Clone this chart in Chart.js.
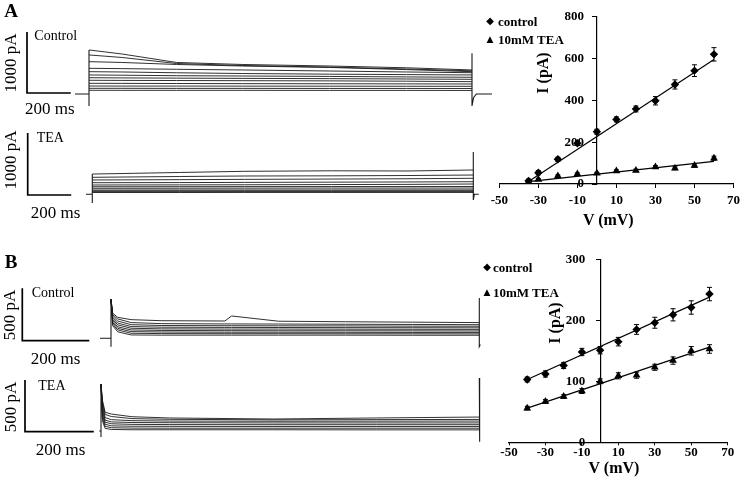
<!DOCTYPE html>
<html><head><meta charset="utf-8">
<script src="https://cdn.jsdelivr.net/npm/chart.js@4.4.1/dist/chart.umd.min.js"></script>
<style>
html,body{margin:0;padding:0;background:#fff;}
#root{position:relative;width:745px;height:485px;overflow:hidden;background:#fff;}
#root canvas{position:absolute;}
.t{position:absolute;font-family:"Liberation Serif","Times New Roman",serif;color:#000;white-space:nowrap;line-height:1;}
</style></head><body><div id="root"></div>
<script>
// ================= DATA =================
// I-V relationship, panel A
const voltsA = [-35, -30, -20, -10, 0, 10, 20, 30, 40, 50, 60];
const ctrlA = [15, 54, 118, 195, 250, 309, 359, 398, 476, 542, 620];
const ctrlErrA = [8, 10, 10, 10, 12, 12, 14, 20, 22, 28, 32];
const teaA = [12, 22, 38, 48, 51, 62, 65, 81, 75, 88, 123];
const teaErrA = [5, 5, 5, 5, 5, 6, 6, 7, 7, 8, 10];
const fitVoltsA = [-35, 60];
const ctrlFitA = [12, 595];
const teaFitA = [11, 108];
const yTicksA = [0, 200, 400, 600, 800];

// I-V relationship, panel B
const voltsB = [-40, -30, -20, -10, 0, 10, 20, 30, 40, 50, 60];
const ctrlB = [103, 112, 126, 148, 151, 165, 185, 196, 209, 221, 243];
const ctrlErrB = [4, 5, 5, 6, 6, 7, 8, 9, 10, 11, 11];
const teaB = [56, 67, 75, 84, 100, 109, 110, 123, 134, 150, 153];
const teaErrB = [3, 3, 3, 4, 4, 5, 5, 5, 6, 7, 7];
const fitVoltsB = [-40, 60];
const ctrlFitB = [103, 238];
const teaFitB = [56, 156];
const yTicksB = [0, 100, 200, 300];

const xTicksIV = [-50, -30, -10, 10, 30, 50, 70];
const legendLabels = ['control', '10mM TEA'];

// Current traces, panel A (time in ms, current in pA)
const timeA = [0, 150, 400, 700, 1100, 1450, 1750];
const ctrlTracesA = [
  [722, 656, 517, 484, 459, 430, 394],
  [640, 599, 500, 467, 441, 410, 380],
  [530, 517, 484, 459, 435, 400, 366],
  [421, 416, 405, 394, 377, 361, 349],
  [366, 361, 348, 336, 325, 318, 312],
  [312, 308, 300, 295, 288, 280, 274],
  [267, 264, 260, 256, 252, 246, 241],
  [225, 223, 221, 218, 215, 210, 202],
  [175, 174, 172, 170, 168, 166, 164],
  [131, 130, 130, 129, 128, 127, 126],
  [93, 93, 92, 92, 91, 91, 90],
  [61, 60, 60, 60, 59, 59, 58]
];
const ctrlOnTimeA = [-64, 0, 0, 0];
const ctrlOnCurA = [0, 0, -197, 722];
const ctrlOffTimeA = [1750, 1750, 1757, 1770, 1865];
const ctrlOffCurA = [667, -197, -60, 0, 0];

const teaTracesA = [
  [306, 315, 331, 350, 358, 355, 371],
  [253, 258, 266, 274, 277, 282, 290],
  [210, 212, 215, 220, 225, 230, 237],
  [166, 167, 168, 171, 175, 178, 182],
  [129, 130, 131, 133, 136, 139, 145],
  [101, 101, 102, 103, 104, 104, 105],
  [76, 76, 77, 78, 79, 79, 80],
  [48, 48, 49, 49, 49, 50, 50],
  [34, 34, 35, 35, 35, 36, 36],
  [21, 21, 21, 22, 22, 22, 22],
  [8, 8, 8, 9, 9, 9, 9]
];
const teaOnTimeA = [-29, 0, 0, 0];
const teaOnCurA = [-21, -21, -161, 306];
const teaOffTimeA = [1750, 1750, 1755, 1775];
const teaOffCurA = [661, -113, -20, -20];

// Current traces, panel B
const timeB = [0, 5, 20, 60, 150, 340, 360, 500, 700, 900, 1100];
const ctrlTracesB = [
  [372, 240, 200, 178, 168, 165, 213, 163, 158, 154, 150],
  [372, 225, 185, 150, 140, 137, 137, 136, 134, 132, 130],
  [372, 210, 165, 130, 122, 120, 120, 119, 118, 116, 115],
  [372, 195, 145, 112, 106, 104, 104, 103, 102, 101, 100],
  [372, 180, 128, 96, 90, 88, 88, 88, 87, 86, 85],
  [372, 165, 110, 80, 75, 73, 73, 72, 72, 71, 70],
  [372, 150, 95, 64, 60, 58, 58, 58, 57, 56, 56],
  [372, 135, 80, 48, 45, 44, 44, 44, 43, 43, 42],
  [372, 120, 62, 32, 30, 30, 30, 30, 30, 29, 29]
];
const ctrlOnTimeB = [-33, 0, 0, 0];
const ctrlOnCurB = [0, 0, -80, 372];
const ctrlOffTimeB = [1100, 1100, 1103];
const ctrlOffCurB = [384, -80, -60];

const timeBT = [0, 4, 12, 30, 90, 200, 500, 800, 1100];
const teaTracesB = [
  [454, 300, 181, 164, 138, 126, 116, 126, 135],
  [454, 280, 160, 140, 120, 113, 108, 110, 112],
  [454, 250, 130, 110, 100, 96, 94, 95, 96],
  [454, 220, 105, 88, 82, 80, 78, 78, 78],
  [454, 190, 85, 70, 64, 62, 61, 61, 61],
  [454, 160, 65, 50, 46, 45, 44, 44, 44],
  [454, 130, 45, 32, 28, 27, 27, 27, 27],
  [454, 100, 25, 15, 12, 12, 12, 11, 11]
];
const teaOnTimeB = [-5, 0, 0, 0];
const teaOnCurB = [0, 0, -58, 454];
const teaOffTimeB = [1100, 1100, 1102];
const teaOffCurB = [512, -103, -80];

// scale bars (ms, pA)
const barMs = 200;
const barPA_A = 1000;
const barPA_B = 500;

// ================= RENDERING =================
const root = document.getElementById('root');
const SERIF = '"Liberation Serif","Times New Roman",serif';

function pts(xs, ys) { return xs.map((x, k) => ({ x: x, y: ys[k] })); }

function addCanvas(left, top, width, height) {
  const c = document.createElement('canvas');
  c.width = width; c.height = height;
  c.style.left = left + 'px'; c.style.top = top + 'px';
  c.style.width = width + 'px'; c.style.height = height + 'px';
  root.appendChild(c);
  return c;
}

function addText(text, x, y, opt) {
  const d = document.createElement('div');
  d.className = 't';
  d.textContent = text;
  d.style.fontSize = opt.size + 'px';
  d.style.fontWeight = opt.bold ? 'bold' : 'normal';
  if (opt.family) d.style.fontFamily = opt.family;
  d.style.left = x + 'px';
  d.style.top = y + 'px';
  if (opt.rotate) d.style.transform = 'translate(-50%,-50%) rotate(-90deg)';
  else if (opt.align === 'left') d.style.transform = 'translate(0,-50%)';
  else d.style.transform = 'translate(-50%,-50%)';
  root.appendChild(d);
}

// Trace panels: layout maps ms / pA into pixels
function tracePanel(L, time, traces, onT, onI, offT, offI, barPA) {
  const c = addCanvas(L.left, L.top, L.width, L.height);
  const pxPerMs = (L.endPx - L.onsetPx) / L.durMs;
  const pxPerPA = L.barHeightPx / barPA;
  const xmin = -(L.onsetPx - L.left) / pxPerMs;
  const xmax = (L.left + L.width - L.onsetPx) / pxPerMs;
  const ymax = (L.basePx - L.top) / pxPerPA;
  const ymin = -(L.top + L.height - L.basePx) / pxPerPA;
  const barT = (L.barPx.x - L.onsetPx) / pxPerMs;
  const barI = (L.basePx - L.barPx.y) / pxPerPA;
  const ds = [];
  const lineStyle = { borderColor: '#1a1a1a', borderWidth: 0.9, pointRadius: 0, tension: 0, fill: false };
  traces.forEach(tr => ds.push(Object.assign({ data: pts(time, tr) }, lineStyle)));
  ds.push(Object.assign({ data: pts(onT, onI) }, lineStyle, { borderWidth: 1.1 }));
  ds.push(Object.assign({ data: pts(offT, offI) }, lineStyle, { borderWidth: 1.1 }));
  ds.push({ data: [{ x: barT, y: barI + barPA }, { x: barT, y: barI }, { x: barT + barMs, y: barI }],
            borderColor: '#000', borderWidth: 1.7, pointRadius: 0, tension: 0, fill: false });
  new Chart(c, {
    type: 'line',
    data: { datasets: ds },
    options: {
      animation: false, responsive: false, events: [],
      layout: { padding: 0 },
      plugins: { legend: { display: false }, tooltip: { enabled: false } },
      scales: {
        x: { type: 'linear', min: xmin, max: xmax, display: false },
        y: { type: 'linear', min: ymin, max: ymax, display: false }
      }
    }
  });
}

tracePanel({ left: 0, top: 18, width: 492, height: 102, onsetPx: 89, endPx: 472, durMs: 1750, basePx: 94, barPx: { x: 27, y: 93 }, barHeightPx: 61 },
  timeA, ctrlTracesA, ctrlOnTimeA, ctrlOnCurA, ctrlOffTimeA, ctrlOffCurA, barPA_A);
tracePanel({ left: 0, top: 122, width: 492, height: 98, onsetPx: 92.3, endPx: 473.3, durMs: 1750, basePx: 193, barPx: { x: 27.7, y: 195 }, barHeightPx: 62 },
  timeA, teaTracesA, teaOnTimeA, teaOnCurA, teaOffTimeA, teaOffCurA, barPA_A);
tracePanel({ left: 0, top: 275, width: 492, height: 85, onsetPx: 111, endPx: 479.3, durMs: 1100, basePx: 338.3, barPx: { x: 22.3, y: 340.7 }, barHeightPx: 52.4 },
  timeB, ctrlTracesB, ctrlOnTimeB, ctrlOnCurB, ctrlOffTimeB, ctrlOffCurB, barPA_B);
tracePanel({ left: 0, top: 368, width: 492, height: 84, onsetPx: 101, endPx: 479.3, durMs: 1100, basePx: 431, barPx: { x: 25, y: 431.7 }, barHeightPx: 51.7 },
  timeBT, teaTracesB, teaOnTimeB, teaOnCurB, teaOffTimeB, teaOffCurB, barPA_B);

// error bar plugin
const errorBars = {
  id: 'errorBars',
  afterDatasetsDraw(chart) {
    const ctx = chart.ctx, xs = chart.scales.x, ys = chart.scales.y;
    chart.data.datasets.forEach(ds => {
      if (!ds.errors) return;
      ctx.save();
      ctx.strokeStyle = '#000'; ctx.lineWidth = 1;
      ds.data.forEach((p, j) => {
        const x = xs.getPixelForValue(p.x);
        const y1 = ys.getPixelForValue(p.y - ds.errors[j]);
        const y2 = ys.getPixelForValue(p.y + ds.errors[j]);
        ctx.beginPath();
        ctx.moveTo(x, y1); ctx.lineTo(x, y2);
        ctx.moveTo(x - 2.5, y1); ctx.lineTo(x + 2.5, y1);
        ctx.moveTo(x - 2.5, y2); ctx.lineTo(x + 2.5, y2);
        ctx.stroke();
      });
      ctx.restore();
    });
  }
};

// shifts the y tick labels of an axis placed at x = 0 away from the axis line
const yLabelGap = {
  id: 'yLabelGap',
  beforeDraw(chart, args, opts) {
    const s = chart.scales.y;
    const items = s.getLabelItems(chart.chartArea);
    items.forEach(it => {
      if (!it._shifted) { it.options.translation[0] -= opts.gap; it._shifted = true; }
    });
  }
};

function ivChart(L, volts, ctrl, ctrlErr, tea, teaErr, fitV, ctrlFit, teaFit, yTicks) {
  const c = addCanvas(L.left, L.top, L.width, L.height);
  const tickFont = { family: SERIF, weight: 'bold', size: 13 };
  new Chart(c, {
    type: 'scatter',
    data: {
      datasets: [
        { label: legendLabels[0], data: pts(volts, ctrl), errors: ctrlErr, pointStyle: 'rectRot', pointRadius: 4.2,
          backgroundColor: '#000', borderColor: '#000', borderWidth: 0, showLine: false },
        { label: legendLabels[1], data: pts(volts, tea), errors: teaErr, pointStyle: 'triangle', pointRadius: 4.5,
          backgroundColor: '#000', borderColor: '#000', borderWidth: 0, showLine: false },
        { label: 'fit control', data: pts(fitV, ctrlFit), showLine: true, pointRadius: 0, borderColor: '#000', borderWidth: 1.2 },
        { label: 'fit TEA', data: pts(fitV, teaFit), showLine: true, pointRadius: 0, borderColor: '#000', borderWidth: 1.2 }
      ]
    },
    options: {
      animation: false, responsive: false, events: [],
      layout: { padding: L.pad },
      plugins: { legend: { display: false }, tooltip: { enabled: false }, yLabelGap: { gap: L.yGap } },
      scales: {
        x: {
          type: 'linear', position: 'bottom',
          min: xTicksIV[0], max: xTicksIV[xTicksIV.length - 1],
          afterBuildTicks: s => { s.ticks = xTicksIV.map(v => ({ value: v })); },
          afterFit: s => { s.height = 30; },
          grid: { drawOnChartArea: false, drawTicks: true, tickLength: L.xTickLen, color: '#000' },
          border: { color: '#000', width: 1.2 },
          ticks: { color: '#000', font: tickFont, padding: L.xPad, maxRotation: 0, autoSkip: false }
        },
        y: {
          type: 'linear', position: { x: 0 },
          min: yTicks[0], max: yTicks[yTicks.length - 1],
          afterBuildTicks: s => { s.ticks = yTicks.map(v => ({ value: v })); },
          grid: { drawOnChartArea: false, drawTicks: true, tickLength: 4, color: '#000' },
          border: { color: '#000', width: 1.2 },
          ticks: { color: '#000', font: tickFont, autoSkip: false }
        }
      }
    },
    plugins: [errorBars, yLabelGap]
  });
}

ivChart({ left: 480, top: 0, width: 265, height: 240, pad: { left: 19.3, right: 8.3, top: 16.7, bottom: 26 }, xTickLen: 4, xPad: 5, yGap: 13 },
  voltsA, ctrlA, ctrlErrA, teaA, teaErrA, fitVoltsA, ctrlFitA, teaFitA, yTicksA);
ivChart({ left: 480, top: 240, width: 265, height: 245, pad: { left: 29, right: 17.3, top: 19.3, bottom: 12.7 }, xTickLen: 3, xPad: 0, yGap: 15 },
  voltsB, ctrlB, ctrlErrB, teaB, teaErrB, fitVoltsB, ctrlFitB, teaFitB, yTicksB);

// ================= TEXT =================
addText('A', 11, 10, { size: 19, bold: true });
addText('B', 11, 261, { size: 19, bold: true });

addText('Control', 34.3, 36, { size: 14, align: 'left' });
addText('1000 pA', 10, 63, { size: 17, rotate: true });
addText('200 ms', 25, 108, { size: 17, align: 'left' });
addText('TEA', 36.7, 138, { size: 14, align: 'left' });
addText('1000 pA', 10, 160, { size: 17, rotate: true });
addText('200 ms', 30.7, 211.7, { size: 17, align: 'left' });

addText('Control', 31.7, 292.7, { size: 14, align: 'left' });
addText('500 pA', 8.5, 314.7, { size: 17, rotate: true });
addText('200 ms', 30.7, 358.3, { size: 17, align: 'left' });
addText('TEA', 38.3, 385.7, { size: 14, align: 'left' });
addText('500 pA', 10, 406.7, { size: 17, rotate: true });
addText('200 ms', 35.7, 449.3, { size: 17, align: 'left' });

addText('I (pA)', 543.3, 72.5, { size: 16, bold: true, rotate: true });
addText('V (mV)', 608.3, 220, { size: 16, bold: true });
addText('I (pA)', 555, 323, { size: 16, bold: true, rotate: true });
addText('V (mV)', 614, 467.7, { size: 16, bold: true });

const SYM = '"DejaVu Sans",sans-serif';
addText('\u25C6', 490, 20.7, { size: 10, family: SYM });
addText(legendLabels[0], 498, 20.7, { size: 13, bold: true, align: 'left' });
addText('\u25B2', 490, 39, { size: 9, family: SYM });
addText(legendLabels[1], 498, 39, { size: 13, bold: true, align: 'left' });
addText('\u25C6', 487, 266.7, { size: 10, family: SYM });
addText(legendLabels[0], 493, 266.7, { size: 13, bold: true, align: 'left' });
addText('\u25B2', 487, 291.7, { size: 9, family: SYM });
addText(legendLabels[1], 493, 291.7, { size: 13, bold: true, align: 'left' });
</script></body></html>
